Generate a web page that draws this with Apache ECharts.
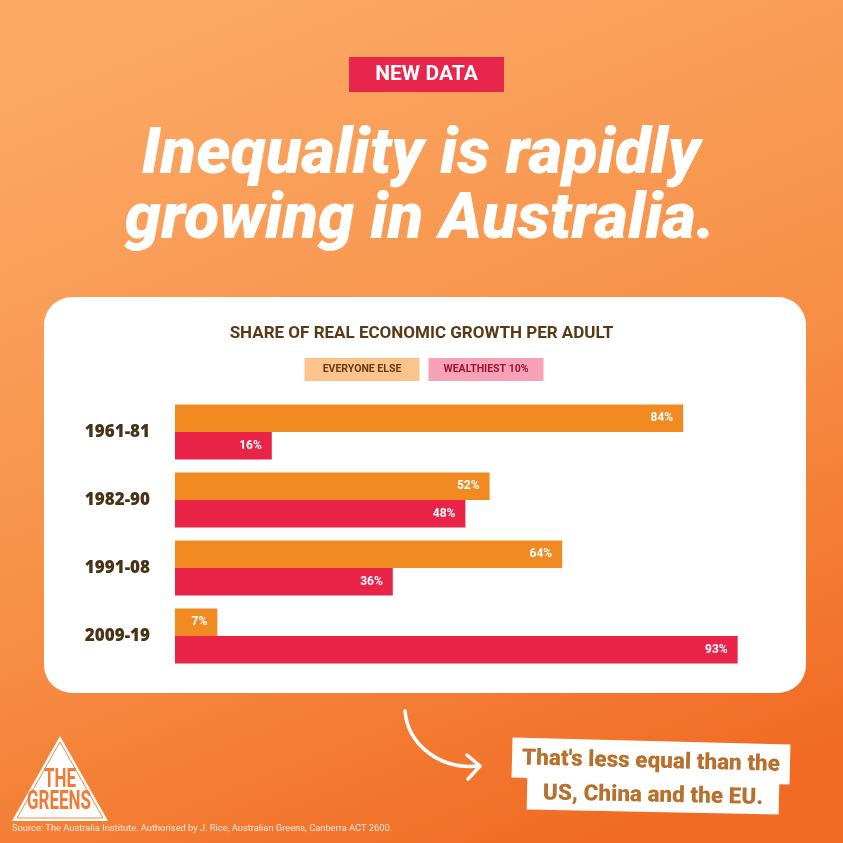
<!DOCTYPE html>
<html>
<head>
<meta charset="utf-8">
<script src="https://cdn.jsdelivr.net/npm/echarts@6/dist/echarts.min.js"></script>
<style>
  html, body { margin: 0; padding: 0; }
  #main { width: 843px; height: 843px; }
</style>
</head>
<body>
<div id="main"></div>
<script>
// data
var periods = ['1961-81', '1982-90', '1991-08', '2009-19'];
var everyoneElse = [84, 52, 64, 7];
var wealthiest = [16, 48, 36, 93];
var seriesNames = ['EVERYONE ELSE', 'WEALTHIEST 10%'];

var myChart = echarts.init(document.getElementById('main'));

var brown = '#5a3914';

var option = {
    animation: false,
    textStyle: { fontFamily: 'Roboto' },
    title: {
        text: 'SHARE OF REAL ECONOMIC GROWTH PER ADULT',
        left: 'center',
        top: 320,
        textStyle: { color: brown, fontSize: 17, fontWeight: 'bold', fontFamily: 'Roboto' }
    },
    legend: {
        top: 353,
        left: 'center',
        icon: 'none',
        itemWidth: 0,
        itemHeight: 0,
        itemGap: 4,
        selectedMode: false,
        data: seriesNames,
        formatter: function (name) {
            return name === seriesNames[0] ? '{a|' + name + '}' : '{b|' + name + '}';
        },
        textStyle: {
            rich: {
                a: { backgroundColor: '#fbc48c', color: '#6a3812', width: 115, height: 23, lineHeight: 23,
                     align: 'center', fontSize: 10.5, fontWeight: 'bold', fontFamily: 'Roboto' },
                b: { backgroundColor: '#f7a2b6', color: '#9b1436', width: 115, height: 23, lineHeight: 23,
                     align: 'center', fontSize: 10.5, fontWeight: 'bold', fontFamily: 'Roboto' }
            }
        }
    },
    grid: { left: 175, right: 63, top: 398, bottom: 173 },
    xAxis: {
        type: 'value', min: 0, max: 100,
        show: false
    },
    yAxis: {
        type: 'category',
        data: periods,
        inverse: true,
        axisLine: { show: false },
        axisTick: { show: false },
        axisLabel: { color: '#4a3216', fontSize: 17, fontWeight: 800, fontFamily: 'Open Sans', margin: 25 }
    },
    series: [
        {
            name: seriesNames[0],
            type: 'bar',
            data: everyoneElse,
            barWidth: 27.5,
            barGap: '0%',
            itemStyle: { color: '#f28a22' },
            label: { show: true, position: 'insideRight', distance: 10, formatter: '{c}%',
                     color: '#fff', fontSize: 12, fontWeight: 'bold' }
        },
        {
            name: seriesNames[1],
            type: 'bar',
            data: wealthiest,
            barWidth: 27.5,
            barGap: '0%',
            itemStyle: { color: '#ea2449' },
            label: { show: true, position: 'insideRight', distance: 10, formatter: '{c}%',
                     color: '#fff', fontSize: 12, fontWeight: 'bold' }
        }
    ],
    graphic: [
        // background
        { type: 'rect', z: -20, shape: { x: 0, y: 0, width: 843, height: 843 },
          style: { fill: new echarts.graphic.LinearGradient(0.3, 0, 0.7, 1, [
              { offset: 0, color: '#fba865' },
              { offset: 0.55, color: '#f78f45' },
              { offset: 1, color: '#f16b24' }
          ]) } },
        // white card
        { type: 'rect', z: -10, shape: { x: 44, y: 297, width: 762, height: 396, r: 28 },
          style: { fill: '#ffffff' } },
        // NEW DATA tag
        { type: 'rect', shape: { x: 349, y: 57, width: 155, height: 35 }, style: { fill: '#e8254a' } },
        { type: 'text', x: 426.5, y: 75, style: { text: 'NEW DATA', fill: '#fff', fontSize: 21, fontWeight: 'bold',
          fontFamily: 'Roboto', align: 'center', verticalAlign: 'middle' } },
        // headline
        { type: 'text', x: 421, y: 157, style: { text: 'Inequality is rapidly', fill: '#fff', fontSize: 65,
          fontWeight: 900, fontStyle: 'italic', fontFamily: 'Roboto', align: 'center', verticalAlign: 'middle' } },
        { type: 'text', x: 420, y: 222, style: { text: 'growing in Australia.', fill: '#fff', fontSize: 65,
          fontWeight: 900, fontStyle: 'italic', fontFamily: 'Roboto', align: 'center', verticalAlign: 'middle' } },
        // arrow
        { type: 'bezierCurve', shape: { x1: 405, y1: 711, cpx1: 408, cpy1: 745, cpx2: 440, cpy2: 770, x2: 479, y2: 766 },
          style: { stroke: '#fff', lineWidth: 3.5, fill: null, lineCap: 'round' } },
        { type: 'polyline', shape: { points: [[467, 755], [480, 766], [468, 779]] },
          style: { stroke: '#fff', lineWidth: 3.5, fill: null, lineCap: 'round', lineJoin: 'round' } },
        // note
        { type: 'group', x: 651, y: 761, rotation: -0.025, children: [
            { type: 'rect', shape: { x: -139, y: -20, width: 278, height: 40 }, style: { fill: '#fff' } },
            { type: 'text', x: 0, y: 1, style: { text: "That's less equal than the", fill: '#b8702c', fontSize: 22.5,
              fontWeight: 900, fontFamily: 'Roboto', align: 'center', verticalAlign: 'middle' } }
        ] },
        { type: 'group', x: 653, y: 796, rotation: -0.02, children: [
            { type: 'rect', shape: { x: -126, y: -16, width: 252, height: 32 }, style: { fill: '#fff' } },
            { type: 'text', x: 0, y: 0, style: { text: 'US, China and the EU.', fill: '#b8702c', fontSize: 22.5,
              fontWeight: 900, fontFamily: 'Roboto', align: 'center', verticalAlign: 'middle' } }
        ] },
        // logo
        { type: 'polygon', shape: { points: [[60, 736], [12, 821], [108, 821]] }, style: { fill: '#fff' } },
        { type: 'polygon', shape: { points: [[60, 742], [17, 818], [103, 818]] },
          style: { fill: null, stroke: '#f08a45', lineWidth: 1 } },
        { type: 'text', x: 60, y: 781, scaleX: 0.68, style: { text: 'THE', fill: '#f07b35', fontSize: 25, fontWeight: 'bold',
          fontFamily: 'Roboto', align: 'center', verticalAlign: 'middle' } },
        { type: 'text', x: 59, y: 803, scaleX: 0.68, style: { text: 'GREENS', fill: '#f07b35', fontSize: 25, fontWeight: 'bold',
          fontFamily: 'Roboto', align: 'center', verticalAlign: 'middle' } },
        // source
        { type: 'text', x: 12, y: 829, style: { text: 'Source: The Australia Institute. Authorised by J. Rice, Australian Greens, Canberra ACT 2600.',
          fill: 'rgba(255,255,255,0.85)', fontSize: 9.3, fontFamily: 'Roboto', align: 'left', verticalAlign: 'middle' } }
    ]
};

myChart.setOption(option);
</script>
</body>
</html>
